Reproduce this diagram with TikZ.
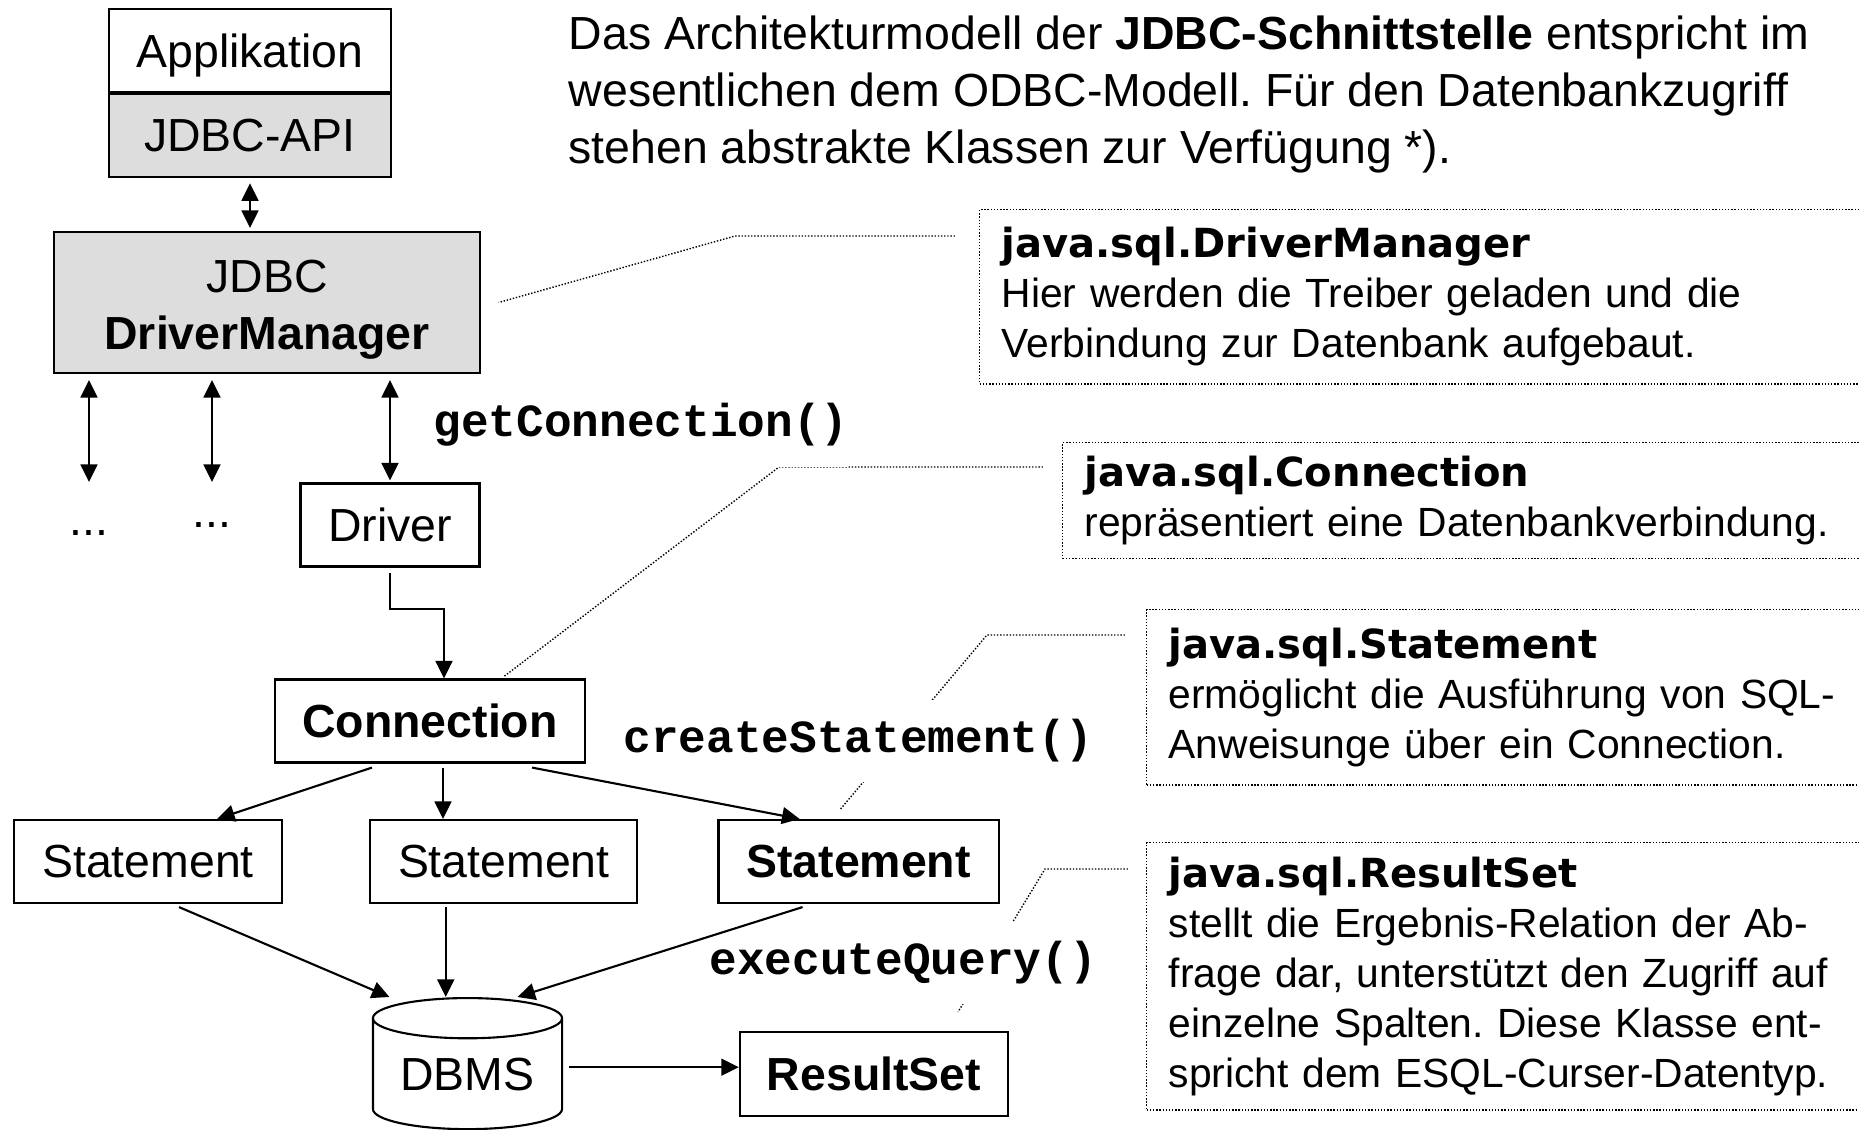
\documentclass[tikz,border=0pt]{standalone}
\usepackage{fontspec}
\setmainfont{Liberation Sans}
\setmonofont{Liberation Mono}
\newfontfamily\notetitlefont{DejaVu Sans}
\usetikzlibrary{positioning, arrows.meta, shapes.geometric, backgrounds}
\definecolor{boxgray}{RGB}{221,221,221}
\newcommand{\notetitle}[1]{{\notetitlefont\bfseries\fontsize{11.4}{14.2}\selectfont #1}}
\frenchspacing

\begin{document}
\begin{tikzpicture}[
        x=0.01cm, y=-0.01cm,
        font=\fontsize{13.2}{16.2}\selectfont,
        box/.style={draw, rectangle, line width=0.6pt, inner sep=0pt, minimum height=0.83cm},
        grey/.style={fill=boxgray},
        arrow/.style={-{Triangle[length=5pt, width=4.8pt]}, line width=0.6pt},
        twoway/.style={{Triangle[length=5pt, width=4.8pt]}-{Triangle[length=5pt, width=4.8pt]}, line width=0.6pt},
        call/.style={font=\fontsize{13.1}{15}\selectfont\ttfamily\bfseries, fill=white, anchor=west, inner xsep=0pt, inner ysep=0.2cm},
        note/.style={draw, dash pattern=on 0.4pt off 0.5pt, line width=0.4pt, anchor=north west, align=left, text width=9cm, inner xsep=0.22cm, font=\fontsize{11.6}{14.2}\selectfont},
        lead/.style={dash pattern=on 0.4pt off 0.5pt, line width=0.4pt}
    ]
    \useasboundingbox (0,0) rectangle (1859,1130);
    \clip (0,0) rectangle (1859,1130);

    % Intro text
    \node[anchor=north west, align=left, inner sep=0pt] (intro) at (568,15)
        {Das Architekturmodell der \textbf{JDBC-Schnittstelle} entspricht im\\
         wesentlichen dem ODBC-Modell. F\"ur den Datenbankzugriff\\
         stehen abstrakte Klassen zur Verf\"ugung *).};

    % Layers
    \node[box, minimum width=2.82cm, text depth=0pt] (app) at (250,50.5) {Applikation};
    \node[box, grey, minimum width=2.82cm, below=0pt of app] (api) {JDBC-API};
    \node[box, grey, minimum width=4.25cm, minimum height=1.41cm, align=center] (dm) at (267,302.5)
        {\rule{0pt}{0.47cm}JDBC\\\textbf{DriverManager}};
    \node[box, minimum width=1.79cm] (drv) at (390,525) {Driver};
    \node[anchor=base] (dots1) at (89,535) {...};
    \node[anchor=base] (dots2) at (212,527) {...};
    \node[box, minimum width=3.1cm] (conn) at (430,721) {\textbf{Connection}};
    \node[box, minimum width=2.68cm] (st1) at (148,861.5) {Statement};
    \node[box, minimum width=2.67cm, right=0.86cm of st1] (st2) {Statement};
    \node[box, minimum width=2.8cm, right=0.79cm of st2] (st3) {\textbf{Statement}};
    \node[draw, line width=0.6pt, cylinder, shape border rotate=90, aspect=0.3, anchor=north,
          minimum width=1.89cm, minimum height=1.31cm, inner sep=0pt] (dbms) at (467.5,997) {DBMS};
    \node[box, minimum width=2.68cm, minimum height=0.84cm] (rs) at (874,1074) {\textbf{ResultSet}};

    % Method calls
    \node[call] (getconn) at (433,425) {getConnection()};
    \node[call] (createst) at (623,741) {createStatement()};
    \node[call] (execq) at (709,963) {executeQuery()};

    % Notes
    \node[note, minimum height=1.74cm] (noteDM) at (979,209)
        {\notetitle{java.sql.DriverManager}\\
         Hier werden die Treiber geladen und die\\
         Verbindung zur Datenbank aufgebaut.};
    \node[note, minimum height=1.16cm] (noteConn) at (1062,442)
        {\notetitle{java.sql.Connection}\\
         repr\"asentiert eine Datenbankverbindung.};
    \node[note, minimum height=1.75cm] (noteSt) at (1146,609)
        {\notetitle{java.sql.Statement}\\
         erm\"oglicht die Ausf\"uhrung von SQL-\\
         Anweisunge \"uber ein Connection.};
    \node[note, minimum height=2.67cm] (noteRS) at (1146,842)
        {\notetitle{java.sql.ResultSet}\\
         stellt die Ergebnis-Relation der Ab-\\
         frage dar, unterst\"utzt den Zugriff auf\\
         einzelne Spalten. Diese Klasse ent-\\
         spricht dem ESQL-Curser-Datentyp.};

    % Leader lines
    \begin{scope}[on background layer]
    \draw[lead] ([shift={(-0.24cm,-0.27cm)}]noteDM.north west) -- ++(-220,0) -- ([xshift=0.18cm]dm.east);
    \draw[lead] ([shift={(-0.19cm,-0.25cm)}]noteConn.north west) -- ++(-264,0) -- ([xshift=0.74cm,yshift=0.02cm]conn.north);
    \draw[lead] ([shift={(-0.21cm,-0.26cm)}]noteSt.north west) -- ++(-138,0) -- ([xshift=-0.18cm,yshift=0.1cm]st3.north);
    \draw[lead] ([shift={(-0.18cm,-0.27cm)}]noteRS.north west) -- ++(-83,0) -- ([xshift=0.84cm,yshift=0.19cm]rs.north);
    \end{scope}

    % Connectors
    \draw[twoway, shorten <=0.05cm, shorten >=0.03cm] (api.south) -- (api.south |- dm.north);
    \draw[twoway, shorten <=0.06cm] (dm.south -| dots1) -- ([yshift=0.53cm]dots1.base);
    \draw[twoway, shorten <=0.06cm] (dm.south -| dots2) -- ([yshift=0.45cm]dots2.base);
    \draw[twoway, shorten <=0.06cm, shorten >=0.02cm] (dm.south -| drv.north) -- (drv.north);
    \draw[arrow] ([yshift=-0.05cm]drv.south) -- ++(0,36) -| ([xshift=0.14cm]conn.north);
    \draw[arrow] ([xshift=-0.58cm,yshift=-0.04cm]conn.south) -- ([xshift=0.69cm]st1.north);
    \draw[arrow] ([xshift=0.13cm,yshift=-0.04cm]conn.south) -- ([xshift=0.13cm]conn.south |- st2.north);
    \draw[arrow] ([xshift=1.02cm,yshift=-0.04cm]conn.south) -- ([xshift=-0.59cm]st3.north);
    \draw[arrow] ([xshift=0.31cm,yshift=-0.03cm]st1.south) -- ([xshift=-0.78cm]dbms.north);
    \draw[arrow] ([xshift=-0.58cm,yshift=-0.03cm]st2.south) -- ([xshift=-0.58cm]st2.south |- dbms.north);
    \draw[arrow] ([xshift=-0.56cm,yshift=-0.03cm]st3.south) -- ([xshift=0.5cm]dbms.north);
    \draw[arrow] ([xshift=0.06cm,yshift=0.07cm]dbms.east) -- ([yshift=0.07cm]dbms.east -| rs.west);

\end{tikzpicture}
\end{document}
